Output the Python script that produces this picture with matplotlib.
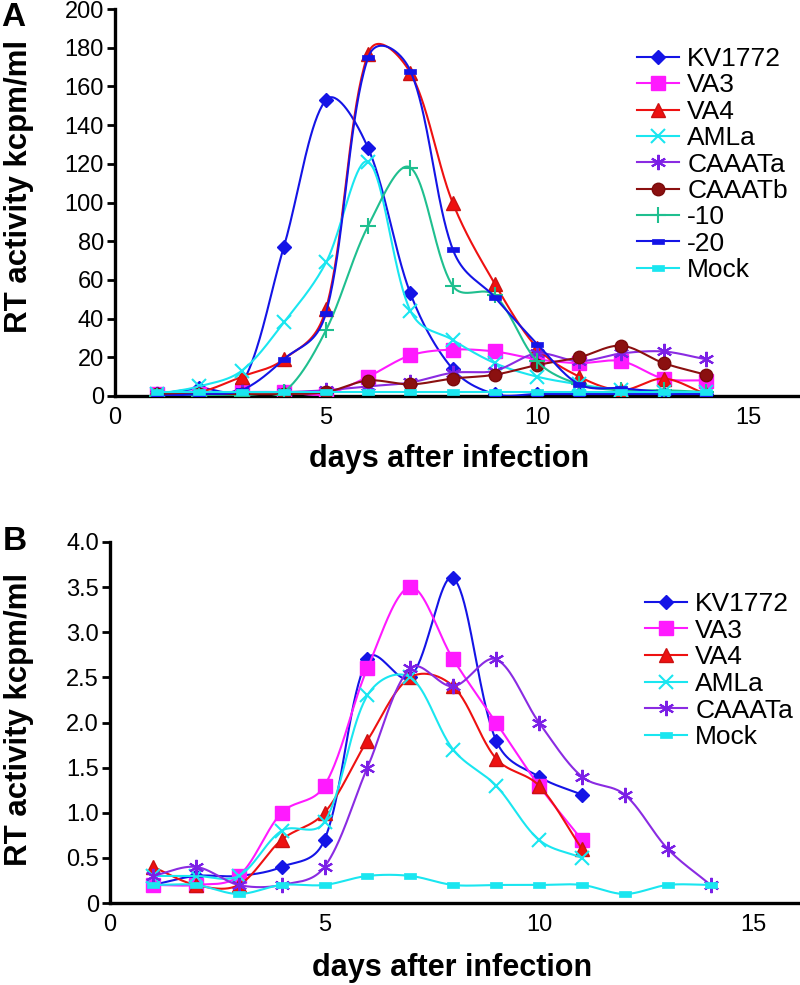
import numpy as np
import matplotlib
matplotlib.use("Agg")
import matplotlib.pyplot as plt
from matplotlib.path import Path
from matplotlib.lines import Line2D

plt.rcParams['font.family'] = ['Liberation Sans', 'DejaVu Sans']

# ---------------- data ----------------
days_A = [1, 2, 3, 4, 5, 6, 7, 8, 9, 10, 11, 12, 13, 14]
KV1772_A = [1, 4, 6, 77, 153, 128, 53, 14, 1, 1, 1, 1, 1, 1]
VA3_A = [1, 1, 2, 2, 1, 10, 21, 24, 23, 19, 17, 18, 9, 8]
VA4_A = [1, 2, 10, 19, 45, 177, 167, 100, 58, 25, 10, 3, 9, 1]
AMLa_A = [1, 5, 13, 38, 69, 121, 44, 29, 17, 10, 6, 3, 2, 2]
CAAATa_A = [1, 1, 2, 2, 3, 5, 7, 12, 13, 22, 18, 22, 23, 19]
CAAATb_A = [1, 1, 1, 1, 2, 8, 6, 9, 11, 16, 20, 26, 17, 11]
m10_A = [0, 0, 0, 2, 34, 88, 118, 57, 52, 18, 6, 3, 3, 2]
m20_A = [0, 1, 3, 19, 43, 175, 168, 76, 51, 27, 6, 4, 2, 1]
Mock_A = [2, 2, 2, 2, 2, 2, 2, 2, 2, 2, 2, 2, 2, 2]

days_B_short = [1, 2, 3, 4, 5, 6, 7, 8, 9, 10, 11]
days_B_long = [1, 2, 3, 4, 5, 6, 7, 8, 9, 10, 11, 12, 13, 14]
KV1772_B = [0.2, 0.3, 0.3, 0.4, 0.7, 2.7, 2.5, 3.6, 1.8, 1.4, 1.2]
VA3_B = [0.2, 0.2, 0.3, 1.0, 1.3, 2.6, 3.5, 2.7, 2.0, 1.3, 0.7]
VA4_B = [0.4, 0.2, 0.2, 0.7, 1.0, 1.8, 2.5, 2.4, 1.6, 1.3, 0.6]
AMLa_B = [0.3, 0.3, 0.3, 0.8, 0.9, 2.3, 2.5, 1.7, 1.3, 0.7, 0.5]
CAAATa_B = [0.3, 0.4, 0.2, 0.2, 0.4, 1.5, 2.6, 2.4, 2.7, 2.0, 1.4, 1.2, 0.6, 0.2]
Mock_B = [0.2, 0.2, 0.1, 0.2, 0.2, 0.3, 0.3, 0.2, 0.2, 0.2, 0.2, 0.1, 0.2, 0.2]

yticks_A = [0, 20, 40, 60, 80, 100, 120, 140, 160, 180, 200]
yticks_B = [0, 0.5, 1.0, 1.5, 2.0, 2.5, 3.0, 3.5, 4.0]
yticklabels_B = ['0', '0.5', '1.0', '1.5', '2.0', '2.5', '3.0', '3.5', '4.0']
xticks = [0, 5, 10, 15]

# ---------------- helpers ----------------
def smooth(x, y, kx, ky, n=40):
    """Smoothed line through the points (Bezier, centripetal-weighted tangents,
    computed in screen space with kx, ky pixels per data unit)."""
    P = np.column_stack([np.asarray(x, float) * kx, np.asarray(y, float) * ky])
    m = len(P)
    d = np.sqrt(np.linalg.norm(np.diff(P, axis=0), axis=1)) + 1e-9
    out = []
    t = np.linspace(0, 1, n)[:, None]
    for i in range(m - 1):
        p1, p2 = P[i], P[i + 1]
        if i > 0:
            w = d[i] / (d[i - 1] + d[i])
            c1 = p1 + (p2 - P[i - 1]) * w / 3.0
        else:
            c1 = p1 + (p2 - p1) / 3.0
        if i + 2 < m:
            w = d[i] / (d[i] + d[i + 1])
            c2 = p2 - (P[i + 2] - p1) * w / 3.0
        else:
            c2 = p2 - (p2 - p1) / 3.0
        seg = ((1 - t) ** 3) * p1 + 3 * ((1 - t) ** 2) * t * c1 + 3 * (1 - t) * t ** 2 * c2 + t ** 3 * p2
        out.append(seg if i == 0 else seg[1:])
    S = np.vstack(out)
    return S[:, 0] / kx, S[:, 1] / ky

dash_marker = Path([(-1, -0.45), (1, -0.45), (1, 0.45), (-1, 0.45), (-1, -0.45)],
                   [Path.MOVETO, Path.LINETO, Path.LINETO, Path.LINETO, Path.CLOSEPOLY])

styles = {
    'KV1772': dict(color='#1414e6', marker='D', ms=7, mec='#1414e6', mfc='#1414e6', mew=1),
    'VA3': dict(color='#ff1aff', marker='s', ms=10, mec='#ff1aff', mfc='#ff1aff', mew=1),
    'VA4': dict(color='#ee1111', marker='^', ms=10, mec='#cc1111', mfc='#ee1111', mew=1),
    'AMLa': dict(color='#1ae6f0', marker='x', ms=10, mec='#1ae6f0', mfc='none', mew=1.5),
    'CAAATa': dict(color='#8a2be2', marker=(6, 2, 0), ms=11, mec='#7b1fe6', mfc='none', mew=1.5),
    'CAAATb': dict(color='#8b1010', marker='o', ms=9, mec='#7a0a0a', mfc='#8b1010', mew=1),
    '-10': dict(color='#1fbf8f', marker='+', ms=11, mec='#1fbf8f', mfc='none', mew=1.5),
    '-20': dict(color='#1414e6', marker=dash_marker, ms=8, mec='#1414e6', mfc='#1414e6', mew=0.5),
    'Mock': dict(color='#1ae6f0', marker=dash_marker, ms=9, mec='#1ae6f0', mfc='#1ae6f0', mew=0.5),
}

def draw(ax, name, x, y, z, kx, ky):
    st = styles[name]
    sx, sy = smooth(x, y, kx, ky)
    ax.plot(sx, sy, color=st['color'], lw=1.5, zorder=z, solid_capstyle='round')
    ax.plot(x, y, ls='none', marker=st['marker'], ms=st['ms'], mec=st['mec'],
            mfc=st['mfc'], mew=st['mew'], zorder=z + 0.5)
    return Line2D([], [], color=st['color'], lw=1.5, marker=st['marker'], ms=st['ms'],
                  mec=st['mec'], mfc=st['mfc'], mew=st['mew'], label=name)

def style_axes(ax):
    for s in ['top', 'right']:
        ax.spines[s].set_visible(False)
    for s in ['left', 'bottom']:
        ax.spines[s].set_linewidth(2.4)
        ax.spines[s].set_color('black')
    ax.tick_params(axis='y', direction='out', length=6, width=2, labelsize=17, pad=2)
    ax.tick_params(axis='x', direction='out', length=0, width=2, labelsize=17, pad=8)
    ax.set_xticks(xticks)
    ax.set_xticklabels([str(v) for v in xticks])

# ---------------- figure ----------------
fig = plt.figure(figsize=(8.0, 9.85), dpi=100)

# Panel A
kxA, kyA = 42.2, 387 / 200
axA = fig.add_axes([115 / 800, 1 - 396 / 985, 685 / 800, 387 / 985])
handles = []
seriesA = [('KV1772', KV1772_A), ('VA3', VA3_A), ('VA4', VA4_A), ('AMLa', AMLa_A),
           ('CAAATa', CAAATa_A), ('CAAATb', CAAATb_A), ('-10', m10_A), ('-20', m20_A),
           ('Mock', Mock_A)]
for k, (name, vals) in enumerate(seriesA):
    handles.append(draw(axA, name, days_A, vals, 3 + k, kxA, kyA))
axA.set_xlim(0, 685 / kxA)
axA.set_ylim(0, 200)
axA.set_yticks(yticks_A)
axA.set_yticklabels([str(v) for v in yticks_A])
style_axes(axA)
axA.legend(handles=handles, loc='upper left', bbox_to_anchor=(637 / 800, 1 - 47 / 985),
           bbox_transform=fig.transFigure,
           frameon=False, fontsize=19, handlelength=1.6, handletextpad=0.3,
           labelspacing=0.09, borderaxespad=0, borderpad=0)

# Panel B
kxB, kyB = 42.9, 361 / 4.0
axB = fig.add_axes([110 / 800, 1 - 903 / 985, 690 / 800, 361 / 985])
handlesB = []
seriesB = [('KV1772', days_B_short, KV1772_B), ('VA3', days_B_short, VA3_B),
           ('VA4', days_B_short, VA4_B), ('AMLa', days_B_short, AMLa_B),
           ('CAAATa', days_B_long, CAAATa_B), ('Mock', days_B_long, Mock_B)]
for k, (name, x, vals) in enumerate(seriesB):
    handlesB.append(draw(axB, name, x, vals, 3 + k, kxB, kyB))
axB.set_xlim(0, 690 / kxB)
axB.set_ylim(0, 4.0)
axB.set_yticks(yticks_B)
axB.set_yticklabels(yticklabels_B)
style_axes(axB)
axB.legend(handles=handlesB, loc='upper left', bbox_to_anchor=(645 / 800, 1 - 592 / 985),
           bbox_transform=fig.transFigure,
           frameon=False, fontsize=19, handlelength=1.6, handletextpad=0.3,
           labelspacing=0.1, borderaxespad=0, borderpad=0)

# labels
fig.text(449 / 800, 1 - 459 / 985, 'days after infection', ha='center', va='center',
         fontsize=22, fontweight='bold')
fig.text(452 / 800, 1 - 968 / 985, 'days after infection', ha='center', va='center',
         fontsize=22, fontweight='bold')
fig.text(19 / 800, 1 - 186 / 985, 'RT activity kcpm/ml', ha='center', va='center',
         rotation=90, fontsize=22.5, fontweight='bold')
fig.text(19 / 800, 1 - 719 / 985, 'RT activity kcpm/ml', ha='center', va='center',
         rotation=90, fontsize=22.5, fontweight='bold')
fig.text(13 / 800, 1 - 18 / 985, 'A', ha='center', va='center', fontsize=24, fontweight='bold')
fig.text(15 / 800, 1 - 541 / 985, 'B', ha='center', va='center', fontsize=24, fontweight='bold')

fig.savefig('out.png', dpi=100)
